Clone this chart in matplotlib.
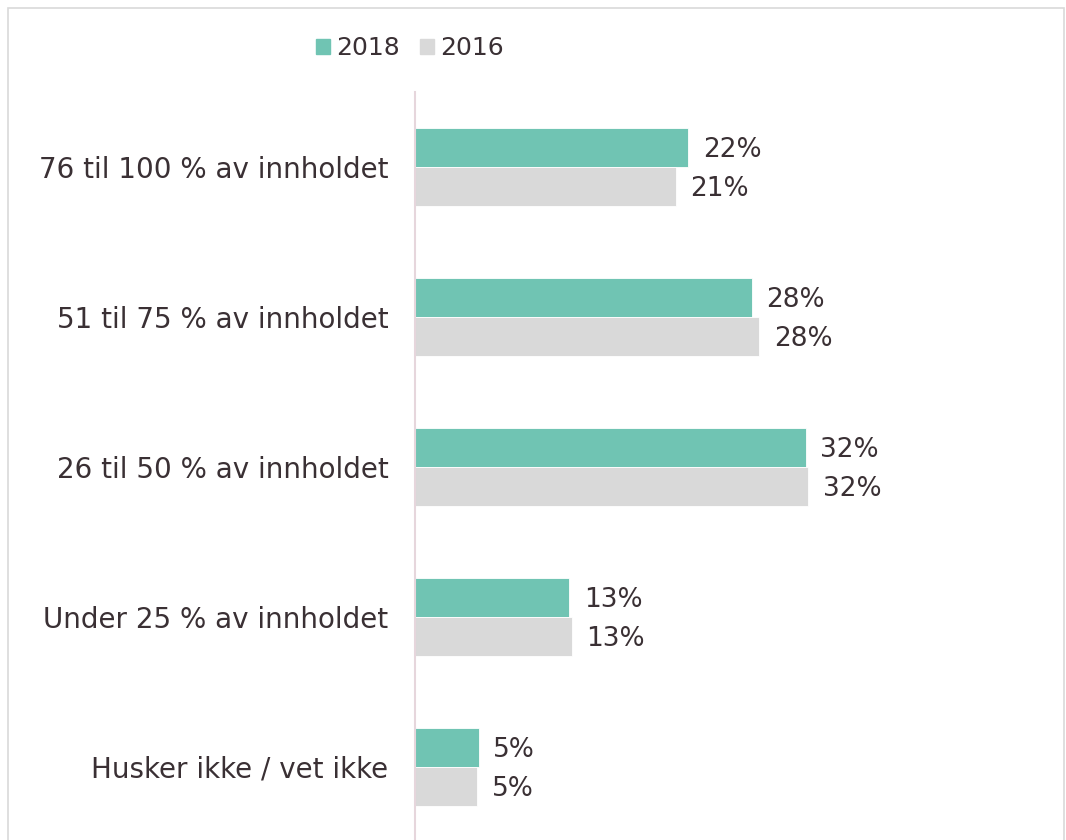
import matplotlib
matplotlib.use("Agg")
import matplotlib.pyplot as plt
from matplotlib.patches import Rectangle, Patch

# data
categories = ["76 til 100 % av innholdet", "51 til 75 % av innholdet",
              "26 til 50 % av innholdet", "Under 25 % av innholdet",
              "Husker ikke / vet ikke"]
vals_2018 = [22.3, 27.5, 31.9, 12.6, 5.2]
vals_2016 = [21.3, 28.1, 32.1, 12.8, 5.1]
series = ["2018", "2016"]

TEAL = "#70c4b3"
GREY = "#d9d9d9"
TXT = "#3a3034"
plt.rcParams["font.family"] = ["DejaVu Sans"]

W, H = 1066, 840
fig = plt.figure(figsize=(W / 100, H / 100), dpi=100)

# outer frame (bottom edge is cut off in the original)
fig.patches.append(Rectangle((8 / W, -0.1), (1064 - 8) / W, 1.1 - 8 / H,
                             transform=fig.transFigure, fill=False,
                             edgecolor="#d9d9d9", linewidth=1.2))

# axes: x=415..1027 px, y=92..842 px
ax = fig.add_axes([415 / W, (H - 842) / H, 612.5 / W, 750 / H])
ax.set_xlim(0, 50)
ax.set_ylim(4.5, -0.5)

h = 0.26
y = list(range(len(categories)))
b1 = ax.barh([i - h / 2 for i in y], vals_2018, height=h, color=TEAL,
             edgecolor="white", linewidth=0.6)
b2 = ax.barh([i + h / 2 for i in y], vals_2016, height=h, color=GREY,
             edgecolor="white", linewidth=0.6)

for bars, vals in ((b1, vals_2018), (b2, vals_2016)):
    for bar, v in zip(bars, vals):
        ax.annotate(f"{v:.0f}%", (bar.get_width(), bar.get_y() + bar.get_height() / 2),
                    xytext=(10.5, -2), textcoords="offset points", va="center",
                    ha="left", fontsize=19, color=TXT)

ax.set_yticks(y)
ax.set_yticklabels(categories, fontsize=20, color=TXT)
ax.tick_params(axis="y", length=0, pad=19)
ax.set_xticks([])
for s in ("top", "right", "bottom"):
    ax.spines[s].set_visible(False)
ax.spines["left"].set_color("#e6d6dc")
ax.spines["left"].set_linewidth(1.5)

handles = [Patch(color=TEAL), Patch(color=GREY)]
fig.legend(handles, series, loc="center", bbox_to_anchor=(410 / W, 1 - 48 / H),
           ncol=2, frameon=False, fontsize=18, handlelength=0.55, handleheight=0.55,
           handletextpad=0.25, columnspacing=0.8, labelcolor=TXT)

fig.savefig("out.png", dpi=100)
